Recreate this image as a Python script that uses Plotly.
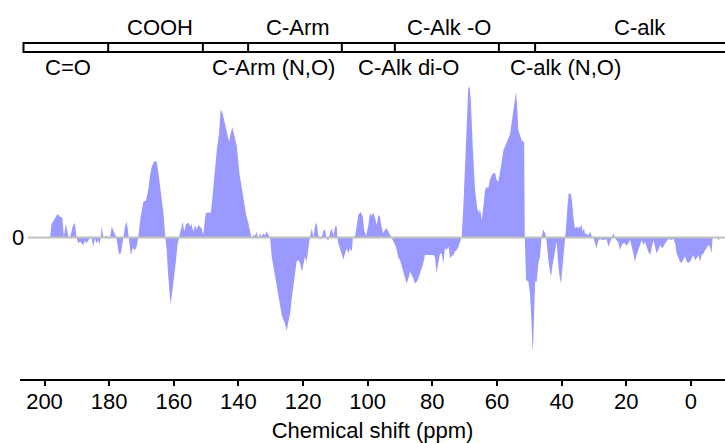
import plotly.graph_objects as go

# Difference 13C NMR spectrum (arbitrary intensity units), high to low shift
shift_ppm = [
    198.3, 197.8, 197.3, 196.7, 196.0, 195.2, 194.5, 194.0, 193.4, 192.6,
    192.1, 191.3, 190.6, 190.1, 189.5, 189.0, 188.5, 188.0, 187.5, 187.0,
    186.4, 185.9, 185.6, 185.3, 184.9, 184.4, 183.9, 183.3, 183.0, 182.6,
    182.3, 181.8, 181.3, 180.8, 180.3, 179.7, 179.2, 178.5, 177.9, 177.5,
    177.0, 176.4, 175.9, 175.6, 175.1, 174.6, 174.2, 173.9, 173.5, 173.3,
    172.7, 172.0, 171.5, 171.0, 170.4, 169.9, 169.4, 168.6, 168.2, 167.9,
    167.4, 166.8, 166.1, 165.3, 164.8, 164.0, 163.2, 162.6, 162.2, 161.7,
    161.2, 161.0, 160.4, 159.9, 159.3, 158.8, 158.4, 157.5, 157.2, 156.8,
    156.2, 155.5, 154.8, 154.5, 154.0, 153.4, 152.9, 152.4, 151.9, 151.4,
    150.9, 150.5, 150.1, 149.3, 148.6, 148.2, 147.8, 147.3, 146.7, 146.0,
    145.5, 144.9, 144.2, 143.4, 142.9, 142.4, 141.9, 141.3, 140.5, 139.7,
    138.5, 137.6, 136.9, 136.4, 135.9, 135.4, 134.9, 134.4, 133.8, 133.3,
    132.8, 132.3, 131.8, 131.3, 130.7, 130.2, 129.7, 129.2, 128.7, 128.2,
    127.6, 127.1, 126.6, 126.1, 125.6, 125.1, 124.5, 124.0, 123.5, 123.0,
    122.5, 122.0, 121.5, 120.9, 120.4, 119.9, 119.4, 118.9, 118.4, 117.9,
    117.3, 116.8, 116.3, 115.8, 115.3, 114.8, 114.2, 113.7, 113.2, 112.7,
    112.2, 111.7, 111.1, 110.6, 110.1, 109.6, 109.4, 109.1, 108.6, 108.0,
    107.5, 107.0, 106.5, 106.0, 105.5, 104.9, 104.6, 103.9, 103.4, 102.9,
    102.2, 101.5, 101.1, 100.5, 99.8, 99.3, 98.8, 98.3, 97.7, 97.2,
    96.7, 96.2, 95.7, 95.2, 94.6, 94.1, 93.6, 93.1, 92.6, 92.1,
    91.5, 91.0, 90.5, 90.0, 89.5, 89.0, 88.4, 87.9, 87.4, 86.9,
    86.4, 85.9, 85.4, 84.8, 84.3, 83.8, 83.3, 82.8, 82.3, 80.7,
    79.7, 79.2, 78.7, 78.1, 77.6, 77.1, 76.6, 76.1, 75.6, 75.0,
    74.5, 74.0, 73.5, 73.0, 72.5, 71.9, 71.4, 71.1, 70.9, 70.4,
    69.9, 69.4, 68.9, 68.5, 68.1, 67.5, 66.8, 66.1, 65.5, 65.3,
    64.7, 64.2, 63.7, 63.2, 62.7, 62.2, 61.6, 61.1, 60.6, 60.1,
    59.6, 59.1, 58.5, 58.0, 57.5, 57.0, 56.5, 56.0, 55.5, 54.9,
    54.4, 54.1, 53.7, 53.4, 52.9, 52.4, 51.8, 51.6, 51.4, 51.0,
    50.3, 49.8, 49.3, 49.0, 48.8, 48.4, 48.2, 47.7, 47.2, 46.7,
    46.2, 45.7, 45.1, 44.8, 44.6, 44.1, 43.6, 43.3, 42.8, 42.0,
    41.5, 41.2, 40.7, 40.2, 39.7, 39.3, 38.9, 38.6, 38.2, 37.8,
    37.2, 36.8, 36.4, 35.9, 35.3, 34.8, 34.3, 33.8, 33.5, 33.1,
    32.8, 32.3, 31.7, 31.2, 30.7, 30.2, 29.7, 29.2, 28.6, 28.1,
    27.1, 26.1, 25.5, 25.0, 24.5, 24.0, 23.5, 22.9, 22.4, 21.9,
    21.4, 20.9, 20.4, 19.9, 19.3, 18.8, 18.3, 17.8, 17.3, 16.8,
    16.3, 15.7, 15.2, 14.7, 14.2, 13.7, 13.2, 12.6, 12.1, 11.6,
    11.1, 10.6, 10.1, 9.5, 9.0, 8.5, 8.0, 7.5, 7.0, 6.5,
    5.9, 5.4, 4.9, 4.4, 3.9, 3.4, 2.9, 2.3, 1.8, 1.3,
    0.8, 0.3, -0.2, -0.8, -1.3, -1.8, -2.3, -2.8, -3.3, -3.9,
    -4.4, -4.9, -5.4, -5.9, -6.4, -6.7, -8.2, -8.5, -8.8, -9.0,
]
intensity = [
    0.0, 9.4, 10.6, 13.4, 15.7, 13.9, 13.4, 0.6, 9.0, 0.6,
    0.0, 7.2, 9.9, 0.0, -3.9, -2.8, -4.3, -5.1, -2.1, -3.9,
    -1.7, -0.6, 1.7, -1.7, -6.1, -0.6, -3.9, -1.7, -5.0, 0.0,
    7.7, 0.0, 0.6, 1.4, -1.2, 0.0, 7.2, 3.2, 0.6, -3.9,
    -11.0, -10.6, -5.0, 0.0, 7.2, 10.6, 5.0, 0.0, -8.3, -11.7,
    -7.2, -8.3, -6.1, 0.0, 11.7, 17.2, 23.9, 24.6, 28.3, 31.7,
    40.6, 47.2, 50.6, 50.6, 43.9, 31.7, 16.1, 0.0, -8.3, -26.1,
    -41.7, -44.6, -35.0, -27.2, -15.0, -3.9, 0.0, 9.4, 10.6, 3.9,
    9.0, 9.9, 7.2, 9.4, 3.9, 8.3, 5.4, 8.3, 7.2, 6.1,
    1.7, 11.7, 16.1, 16.8, 16.1, 22.8, 33.9, 47.2, 58.3, 69.4,
    85.4, 82.8, 76.1, 67.2, 63.9, 69.4, 73.4, 68.3, 60.6, 42.8,
    26.0, 15.0, 9.4, 2.8, -0.8, 1.7, 1.0, 3.9, -1.2, 2.8,
    0.6, 2.8, 1.4, 3.9, 1.7, 0.0, -12.8, -19.4, -26.1, -31.7,
    -39.4, -46.1, -51.7, -55.0, -57.2, -62.1, -56.1, -50.6, -40.6, -32.8,
    -22.8, -16.1, -15.0, -17.2, -22.8, -18.3, -12.8, -16.1, -6.1, 0.0,
    6.1, 0.0, 7.7, 9.9, 1.7, -1.7, 0.1, 4.6, 5.4, -0.6,
    -2.1, 2.8, 6.1, 1.0, 7.2, 7.7, 0.0, -3.9, -7.2, -11.7,
    -14.6, -10.6, -7.2, -10.6, -7.2, -9.4, 0.0, 1.1, 9.4, 15.0,
    17.2, 13.9, 5.0, 1.0, 8.3, 16.1, 14.3, 16.6, 12.8, 8.3,
    15.0, 13.9, 7.2, 2.8, 5.4, 6.1, 3.9, 1.7, 0.0, -1.7,
    -5.0, -8.3, -13.9, -15.0, -18.3, -22.8, -27.2, -30.6, -27.2, -22.8,
    -25.0, -27.2, -30.6, -29.4, -27.2, -23.9, -20.6, -17.2, -11.7, -11.7,
    -11.7, -12.8, -23.9, -16.1, -10.6, -10.6, -17.2, -7.2, -8.3, -6.1,
    -13.9, -12.3, -11.7, -9.4, -8.3, -6.1, -1.7, 0.0, 0.6, 20.6,
    49.4, 82.8, 99.4, 100.6, 91.7, 60.6, 31.7, 19.4, 16.1, 19.4,
    11.7, 20.6, 31.7, 33.9, 32.8, 38.3, 41.7, 42.8, 43.2, 38.3,
    37.2, 42.8, 52.8, 58.3, 60.6, 63.9, 66.1, 68.3, 76.1, 85.0,
    96.1, 97.2, 85.0, 71.7, 68.3, 65.0, 63.9, 62.8, 0.0, -28.3,
    -29.4, -37.2, -57.2, -76.1, -70.6, -41.7, -29.4, -29.4, -17.2, -12.8,
    0.0, 5.4, 2.8, 0.0, -6.0, -15.0, -22.8, -26.1, -18.3, -8.3,
    -2.8, -13.9, -25.0, -30.6, -19.4, -8.3, 0.0, 7.2, 20.6, 29.4,
    29.4, 25.0, 13.9, 6.1, 7.2, 6.1, 7.2, 8.1, 3.9, 6.1,
    2.8, 2.3, 1.7, 3.9, 0.6, 0.0, -3.8, -7.1, -1.7, -1.2,
    -1.7, -1.2, -6.1, -2.8, 0.0, 2.8, 0.0, -1.7, -3.9, -8.3,
    -5.0, -3.9, -3.9, -5.7, -3.9, -1.7, -6.1, -11.7, -16.1, -11.7,
    -8.3, -3.9, -1.7, -5.0, -2.8, -6.1, -9.4, -11.7, -7.2, -1.7,
    -6.1, -10.6, -8.3, -5.0, -7.2, -6.1, -3.9, -2.8, -1.2, -1.2,
    -1.7, -0.5, -3.9, -10.5, -13.9, -16.1, -16.8, -13.9, -12.7, -16.1,
    -16.8, -16.1, -13.9, -11.7, -15.0, -13.9, -11.7, -16.1, -11.7, -10.6,
    -8.3, -7.2, -5.0, -6.1, -10.5, 0.0, 0.0, -1.7, -1.2, 0.0,
]

# Functional-group regions (ppm boundaries, left to right)
region_bounds = [206.5, 180.3, 151.0, 137.0, 108.0, 91.6, 59.4, 48.2, -11.0]
upper_labels = ["COOH", "C-Arm", "C-Alk -O", "C-alk"]
upper_label_ppm = [164.3, 121.7, 74.7, 15.7]
lower_labels = ["C=O", "C-Arm (N,O)", "C-Alk di-O", "C-alk (N,O)"]
lower_label_ppm = [192.6, 129.2, 87.4, 38.9]
x_ticks = [200, 180, 160, 140, 120, 100, 80, 60, 40, 20, 0]

FONT = "Liberation Sans, Arial, Helvetica, sans-serif"
FILL = "rgb(153,153,255)"
BAND_LO, BAND_HI = 123.7, 129.7
UPPER_Y, LOWER_Y = 140.0, 113.3

fig = go.Figure()
fig.add_trace(go.Scatter(
    x=shift_ppm, y=intensity, mode="lines", fill="tozeroy",
    fillcolor=FILL, line=dict(width=0, color=FILL), hoverinfo="skip",
    showlegend=False,
))

shapes = [
    # zero baseline
    dict(type="line", xref="x", yref="y", x0=205.1, x1=region_bounds[-1],
         y0=0, y1=0, line=dict(color="#c0c0c0", width=2), layer="above"),
    # region band outline
    dict(type="rect", xref="x", yref="y", x0=region_bounds[0],
         x1=region_bounds[-1], y0=BAND_LO, y1=BAND_HI,
         line=dict(color="black", width=2), layer="above"),
]
for b in region_bounds[1:-1]:
    shapes.append(dict(type="line", xref="x", yref="y", x0=b, x1=b,
                       y0=BAND_LO, y1=BAND_HI,
                       line=dict(color="black", width=2), layer="above"))

annotations = []
for txt, pos in zip(upper_labels, upper_label_ppm):
    annotations.append(dict(x=pos, y=UPPER_Y, xref="x", yref="y", text=txt,
                            showarrow=False, xanchor="center", yanchor="middle",
                            font=dict(family=FONT, size=22, color="black")))
for txt, pos in zip(lower_labels, lower_label_ppm):
    annotations.append(dict(x=pos, y=LOWER_Y, xref="x", yref="y", text=txt,
                            showarrow=False, xanchor="center", yanchor="middle",
                            font=dict(family=FONT, size=22, color="black")))
annotations.append(dict(x=-0.0035, y=0, xref="paper", yref="y", text="0",
                        showarrow=False, xanchor="center", yanchor="middle",
                        font=dict(family=FONT, size=22, color="black")))

fig.update_layout(
    width=725, height=443,
    margin=dict(l=20, r=0, t=0, b=64),
    paper_bgcolor="white", plot_bgcolor="white",
    shapes=shapes, annotations=annotations,
    font=dict(family=FONT, color="black"),
    xaxis=dict(
        range=[207.58, -10.55], showgrid=False, zeroline=False,
        showline=True, linecolor="black", linewidth=2,
        ticks="outside", ticklen=5, tickwidth=2, tickcolor="black",
        ticklabelstandoff=-3,
        tickvals=x_ticks, ticktext=[str(t) for t in x_ticks],
        tickfont=dict(family=FONT, size=22, color="black"),
        title=dict(text="Chemical shift (ppm)", standoff=9,
                   font=dict(family=FONT, size=22, color="black")),
    ),
    yaxis=dict(range=[-94.33, 158.33], visible=False),
)

fig.write_html("out.html")
